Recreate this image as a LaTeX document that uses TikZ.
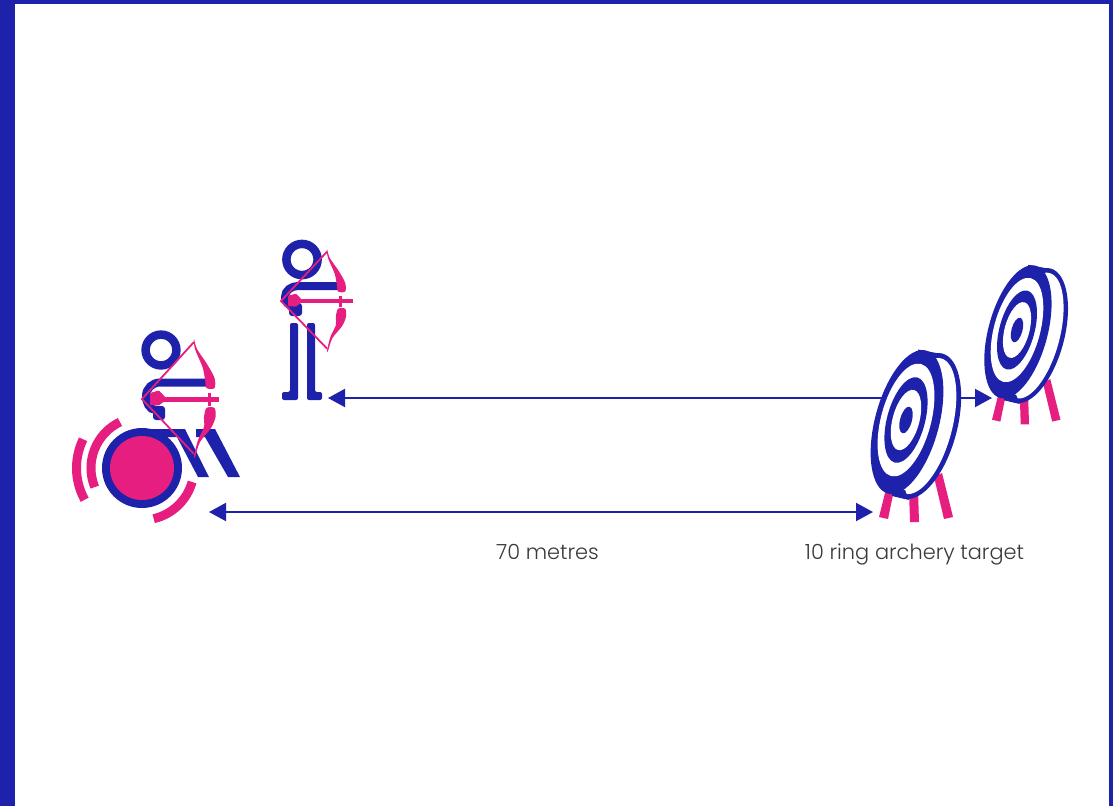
\documentclass[tikz,border=0pt]{standalone}
\usepackage{fontspec}
\setmainfont{Poppins}[UprightFont={* Light}]
\usetikzlibrary{arrows.meta}
\definecolor{navy}{HTML}{1E22AA}
\definecolor{rose}{HTML}{E61E7F}
\definecolor{ink}{HTML}{3A3A3A}
\tikzset{
  ring/.style={line width=9pt,draw=rose},
  span/.style={draw=navy,line width=2pt,{Triangle[length=17pt,width=18pt,fill=navy]}-{Triangle[length=17pt,width=18pt,fill=navy]}},
  caption/.style={font=\fontsize{20.9pt}{24pt}\selectfont,text=ink,inner sep=0pt,anchor=base},
  string/.style={draw=rose,line width=1.8pt},
  limb/.style={draw=navy,line width=8pt},
  headring/.style={draw=navy,line width=8.5pt}
}
% bow, origin at the string's vertex
\newcommand{\bowdraw}{%
  \fill[rose] plot[smooth cycle,tension=.5] coordinates {(52,-60) (55,-50) (65,-35) (72.5,-21) (72.5,-11) (64.5,-11) (63,-20) (60.5,-32) (53,-50)};
  \fill[rose] plot[smooth cycle,tension=.5] coordinates {(64.5,9) (72.5,9) (73.5,18) (69,29) (58,43) (53,58) (52,57) (56,41) (62,28) (62,18)};
  \draw[string] (52,-57) -- (0,0) -- (52,55);
  \fill[rose,rounded corners=1pt] (8,-6) -- (17,-8.5) -- (25,0) -- (17,6.5) -- (8,6) -- cycle;
  \fill[rose] (65.5,-6) rectangle (68.5,7);
}
\newcommand{\targetdraw}{%
  \fill[rose] (-19,65) -- (-11,65) -- (-18,99) -- (-27,97) -- cycle;
  \fill[rose] (3,70) -- (12,70) -- (13,102) -- (4,102) -- cycle;
  \fill[rose] (28,57) -- (36,53) -- (47,97) -- (38,99) -- cycle;
  \begin{scope}[shift={(17,6)},rotate=-15]
    \fill[navy] (0,0) ellipse [x radius=34,y radius=75];
    \fill[white] (0,0) ellipse [x radius=29,y radius=70];
  \end{scope}
  \fill[navy] (12,-70.5) -- (33,-66.5) -- (29,-60) -- (12,-60) -- cycle;
  \fill[navy] (-14,76) -- (3,80) -- (-1,70) -- (-14,68) -- cycle;
  \begin{scope}[shift={(1,2)},rotate=-15]
    \fill[navy] (0,0) ellipse [x radius=32,y radius=74];
  \end{scope}
  \begin{scope}[rotate=-15]
    \fill[white] (0,0) ellipse [x radius=25,y radius=58];
    \fill[navy] (0,0) ellipse [x radius=19,y radius=44];
    \fill[white] (0,0) ellipse [x radius=13.4,y radius=31];
    \fill[navy] (0,0) ellipse [x radius=5.9,y radius=13.7];
  \end{scope}
}
\begin{document}
\begin{tikzpicture}[x=1pt,y=-1pt]
\useasboundingbox (0,0) rectangle (1113,806);
\fill[white] (0,0) rectangle (1113,806);
\fill[navy] (0,0) rectangle (1113,4);
\fill[navy] (0,0) rectangle (15,806);
\fill[navy] (1109,0) rectangle (1113,806);

\coordinate (wheel) at (142,468);
\coordinate (spanAL) at (209,512);
\coordinate (spanAR) at (873,512);
\coordinate (spanBL) at (328,398);
\coordinate (spanBR) at (992,398);

% measuring arrows
\draw[span] (spanAL) -- (spanAR);
\draw[span] (spanBL) -- (spanBR);

% wheelchair archer
\draw[headring] (161,350) circle [radius=15.4pt];
\draw[limb] (207,382.5) -- (160,382.5) to[out=180,in=90] (146,396) to[out=-90,in=180] (156,410);
\fill[navy,rounded corners=3pt] (153,406) -- (165,406) -- (165,420) -- (153,420) -- cycle;
\fill[navy] (142,429) -- (185,429) -- (209,477) -- (198,477) -- (177,437) -- (142,437) -- cycle;
\fill[navy] (196,429) -- (215,429) -- (240,477) -- (228,477) -- (205,437) -- (196,437) -- cycle;
\fill[navy] (wheel) circle [radius=40pt];
\fill[rose] (wheel) circle [radius=32pt];
\draw[ring] ([shift={(115.6:51pt)}]wheel) arc [start angle=115.6,end angle=202,radius=51pt];
\draw[ring] ([shift={(154:65.5pt)}]wheel) arc [start angle=154,end angle=209,radius=65.5pt];
\draw[ring] ([shift={(-15.6:52pt)}]wheel) arc [start angle=-15.6,end angle=-77,radius=52pt];
\begin{scope}[shift={(142,399)}]
  \bowdraw
  \draw[rose,line width=5pt] (10,0) -- (77,0);
\end{scope}

% standing archer
\draw[headring] (302,259.5) circle [radius=15.6pt];
\draw[limb] (338,286) -- (298,286) to[out=180,in=90] (285,297) to[out=-90,in=180] (293,306);
\fill[navy,rounded corners=3pt] (289,303) -- (302,303) -- (302,316) -- (289,316) -- cycle;
\fill[navy,rounded corners=2pt] (290,323) -- (298,323) -- (298,400) -- (282,400) -- (282,392) -- (290,392) -- cycle;
\fill[navy,rounded corners=2pt] (307,323) -- (315,323) -- (315,392) -- (322,392) -- (322,400) -- (307,400) -- cycle;
\begin{scope}[shift={(281,301)},xscale=.885,yscale=.865]
  \bowdraw
  \draw[rose,line width=4.5pt] (10,0) -- (81,0);
\end{scope}

% targets
\begin{scope}[shift={(906,420)}]
  \targetdraw
\end{scope}
\begin{scope}[shift={(1017,330)},scale=.925]
  \targetdraw
\end{scope}

\node[caption] (distance) at (547.5,559) {70 metres};
\node[caption] (targetname) at (914.5,559) {10 ring archery target};
\end{tikzpicture}
\end{document}
